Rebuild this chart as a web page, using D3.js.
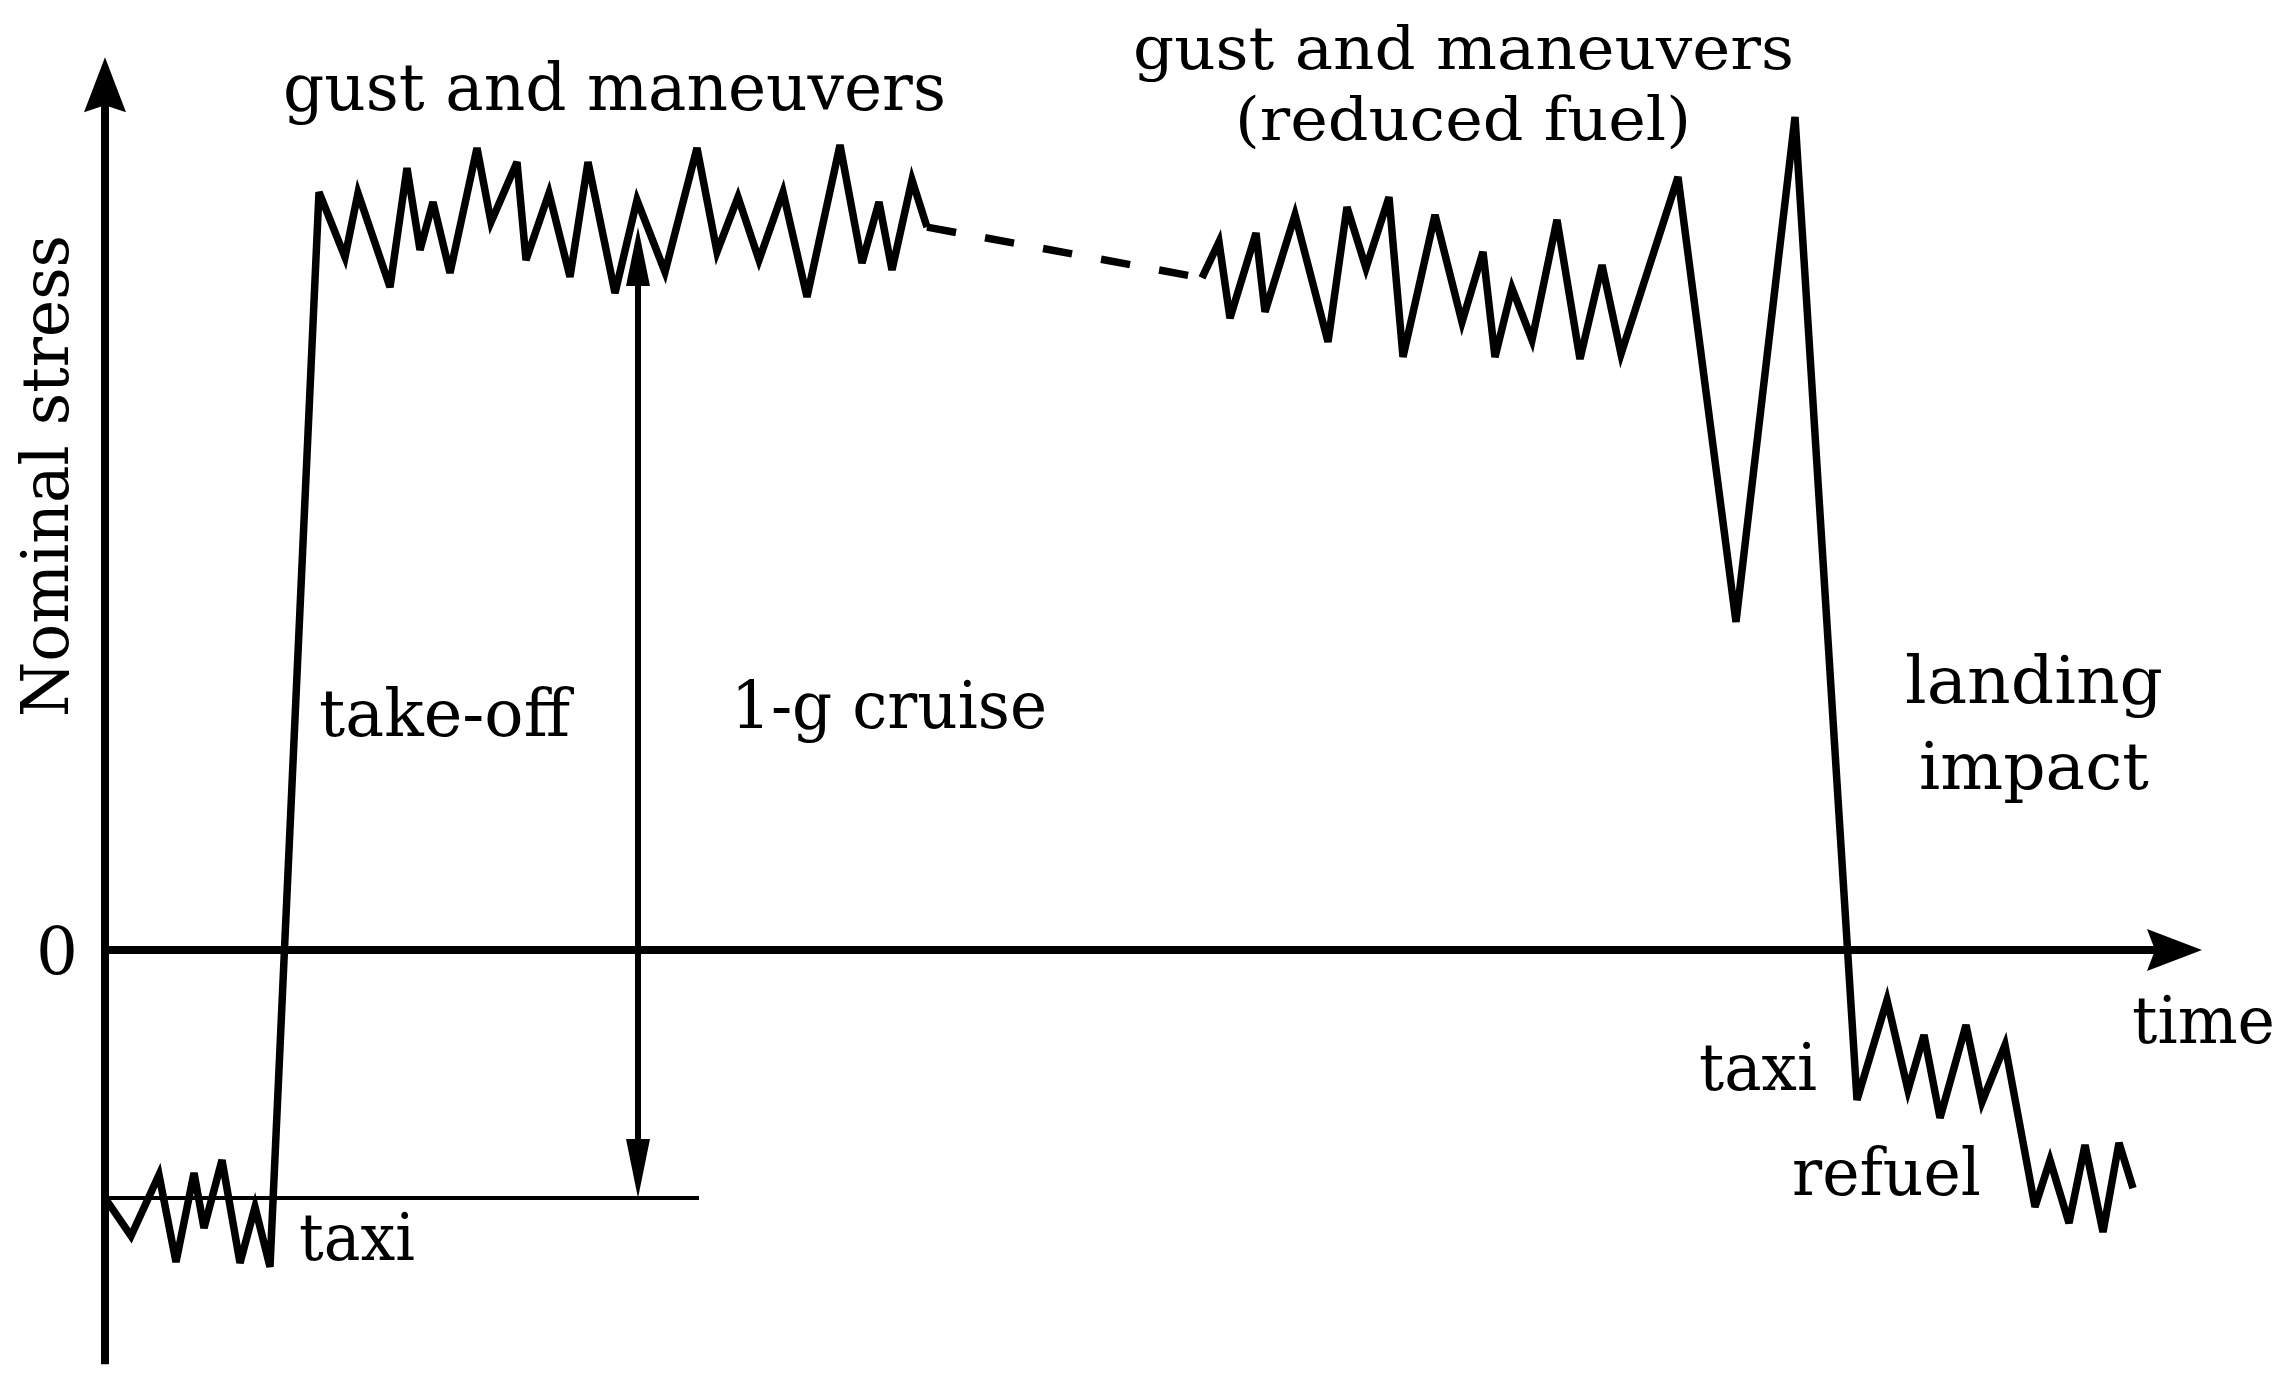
<!DOCTYPE html>
<html>
<head>
<meta charset="utf-8">
<script src="https://cdn.jsdelivr.net/npm/d3@7"></script>
<style>
  html, body { margin: 0; padding: 0; background: #ffffff; }
  svg text { font-family: "DejaVu Serif", "Liberation Serif", serif; fill: #000; }
</style>
</head>
<body>
<svg id="chart" width="2292" height="1391"></svg>
<script>
// ---------------- DATA (time units, nominal stress units; 0 = zero stress, -1 = ground taxi level) ----------------
// Ground taxi -> take-off -> gusts and maneuvers (solid)
const flightTime = [0, 1.3, 2.7, 3.55, 4.45, 4.95, 5.85, 6.75, 7.5, 8.25,
  10.7, 12.0, 12.65, 14.25, 15.1, 15.75, 16.4, 17.25, 18.6, 19.3, 20.6, 21.05, 22.2, 23.25, 24.15, 25.5,
  26.6, 28.0, 29.6, 30.6, 31.65, 32.7, 33.9, 35.1, 36.75, 37.85, 38.7, 39.35, 40.35, 41.1];
const flightStress = [-1.0, -1.153, -0.907, -1.258, -0.899, -1.121, -0.847, -1.262, -1.036, -1.278,
  3.056, 2.794, 3.052, 2.673, 3.153, 2.823, 3.016, 2.730, 3.234, 2.935, 3.177, 2.782, 3.052, 2.714, 3.177, 2.649,
  3.024, 2.734, 3.234, 2.815, 3.036, 2.782, 3.056, 2.633, 3.246, 2.770, 3.016, 2.742, 3.105, 2.915];
// 1-g cruise (dashed)
const cruiseTime = [41.1, 54.85];
const cruiseStress = [2.915, 2.710];
// Gusts with reduced fuel -> landing impact -> taxi -> refuel (solid)
const landingTime = [54.85, 55.7, 56.25, 57.55, 58.0, 59.5, 61.15, 62.1, 63.05, 64.2, 64.9, 66.5, 67.85, 68.9,
  69.5, 70.35, 71.35, 72.6, 73.75, 74.85, 75.8, 78.65, 81.55, 84.5,
  87.6, 89.1, 90.15, 90.95, 91.75, 93.05, 93.85, 95.0, 96.5, 97.25, 98.2, 99.0, 99.9, 100.7, 101.4];
const landingStress = [2.710, 2.855, 2.548, 2.891, 2.573, 2.964, 2.452, 2.996, 2.750, 3.036, 2.391, 2.964, 2.532, 2.815,
  2.391, 2.669, 2.460, 2.944, 2.383, 2.762, 2.403, 3.117, 1.323, 3.359,
  -0.605, -0.202, -0.565, -0.343, -0.677, -0.302, -0.613, -0.383, -1.036, -0.847, -1.101, -0.786, -1.137, -0.778, -0.960];
// 1-g cruise stress range indicator
const rangeTime = 26.65;
const rangeStress = [-1.0, 2.915];
const baselineTime = [0, 29.7];
const baselineStress = -1.0;
// Axis extents
const timeAxisMax = 104.85;
const stressAxisMax = 3.60;
const stressAxisMin = -1.67;
const stressTicks = [0];
const stressTickLabels = ["0"];
// Labels
const labelTexts = ["gust and maneuvers", "gust and maneuvers", "(reduced fuel)", "take-off", "1-g cruise",
  "landing", "impact", "time", "taxi", "refuel", "taxi"];
const yTitle = "Nominal stress";

// ---------------- LAYOUT ----------------
const labelLayout = [
  {x: 283, y: 110, w: 663, fs: 66},
  {x: 1133, y: 69, w: 661, fs: 60},
  {x: 1235, y: 140, w: 456, fs: 60},
  {x: 319, y: 736, w: 251, fs: 66},
  {x: 731, y: 728, w: 316, fs: 66},
  {x: 1905, y: 703, w: 258, fs: 66},
  {x: 1919, y: 789, w: 230, fs: 66},
  {x: 2132, y: 1043, w: 143, fs: 66},
  {x: 1699, y: 1090, w: 118, fs: 66},
  {x: 1792, y: 1195, w: 189, fs: 66},
  {x: 299, y: 1260, w: 116, fs: 66}
];
const fontSize = 66;

const svg = d3.select("#chart");
const x = d3.scaleLinear().domain([0, 100]).range([105, 2105]);
const y = d3.scaleLinear().domain([-1, 0]).range([1198, 950]);

function arrowHead(tipX, tipY, dx, dy, L, hw, notch) {
  const px = -dy, py = dx;
  const bx = tipX - L * dx, by = tipY - L * dy;
  const nx = tipX - (L - notch) * dx, ny = tipY - (L - notch) * dy;
  return `M${tipX},${tipY}L${bx + hw * px},${by + hw * py}L${nx},${ny}L${bx - hw * px},${by - hw * py}Z`;
}

// Axes
const axTop = y(stressAxisMax), axBot = y(stressAxisMin);
const axRight = x(timeAxisMax);
svg.append("line").attr("x1", x(0)).attr("x2", x(0)).attr("y1", axBot).attr("y2", axTop + 40)
  .attr("stroke", "#000").attr("stroke-width", 8);
svg.append("path").attr("d", arrowHead(x(0), axTop, 0, -1, 55, 21, 7)).attr("fill", "#000");
svg.append("line").attr("x1", x(0) - 4).attr("x2", axRight - 40).attr("y1", y(0)).attr("y2", y(0))
  .attr("stroke", "#000").attr("stroke-width", 8);
svg.append("path").attr("d", arrowHead(axRight, y(0), 1, 0, 55, 21, 8)).attr("fill", "#000");

// Zero tick label via d3 axis
const yAxis = d3.axisLeft(y).tickValues(stressTicks).tickFormat((d, i) => stressTickLabels[i])
  .tickSize(0).tickPadding(27);
const gAx = svg.append("g").attr("transform", `translate(${x(0)},0)`).call(yAxis);
gAx.select(".domain").remove();
gAx.selectAll("text").attr("font-family", "DejaVu Serif, serif").attr("font-size", fontSize).attr("fill", "#000")
  .attr("dy", "0.36em");

// Thin baseline (taxi level)
svg.append("line").attr("x1", x(baselineTime[0])).attr("x2", x(baselineTime[1]))
  .attr("y1", y(baselineStress)).attr("y2", y(baselineStress))
  .attr("stroke", "#000").attr("stroke-width", 4);

// Double-headed range arrow
const rx = x(rangeTime), ry0 = y(rangeStress[0]), ry1 = y(rangeStress[1]);
svg.append("line").attr("x1", rx).attr("x2", rx).attr("y1", ry0 - 40).attr("y2", ry1 + 40)
  .attr("stroke", "#000").attr("stroke-width", 6);
svg.append("path").attr("d", arrowHead(rx, ry1, 0, -1, 59, 12, 0)).attr("fill", "#000");
svg.append("path").attr("d", arrowHead(rx, ry0, 0, 1, 59, 12, 0)).attr("fill", "#000");

// Stress history
const line = d3.line().x(d => x(d[0])).y(d => y(d[1]));
const seg1 = flightTime.map((t, i) => [t, flightStress[i]]);
const seg2 = cruiseTime.map((t, i) => [t, cruiseStress[i]]);
const seg3 = landingTime.map((t, i) => [t, landingStress[i]]);
svg.append("path").attr("d", line(seg1)).attr("fill", "none").attr("stroke", "#000")
  .attr("stroke-width", 7.5).attr("stroke-linejoin", "miter").attr("stroke-miterlimit", 4);
svg.append("path").attr("d", line(seg2)).attr("fill", "none").attr("stroke", "#000")
  .attr("stroke-width", 7.5).attr("stroke-dasharray", "29.5,29.5");
svg.append("path").attr("d", line(seg3)).attr("fill", "none").attr("stroke", "#000")
  .attr("stroke-width", 7.5).attr("stroke-linejoin", "miter").attr("stroke-miterlimit", 4);

// Labels
svg.selectAll("text.lbl").data(labelTexts).enter().append("text")
  .attr("class", "lbl")
  .attr("x", (d, i) => labelLayout[i].x)
  .attr("y", (d, i) => labelLayout[i].y)
  .attr("font-size", (d, i) => labelLayout[i].fs)
  .attr("textLength", (d, i) => labelLayout[i].w)
  .attr("lengthAdjust", "spacingAndGlyphs")
  .text(d => d);

svg.append("text").attr("transform", "translate(68,717) rotate(-90)")
  .attr("font-size", fontSize).attr("textLength", 482).attr("lengthAdjust", "spacingAndGlyphs")
  .text(yTitle);
</script>
</body>
</html>
